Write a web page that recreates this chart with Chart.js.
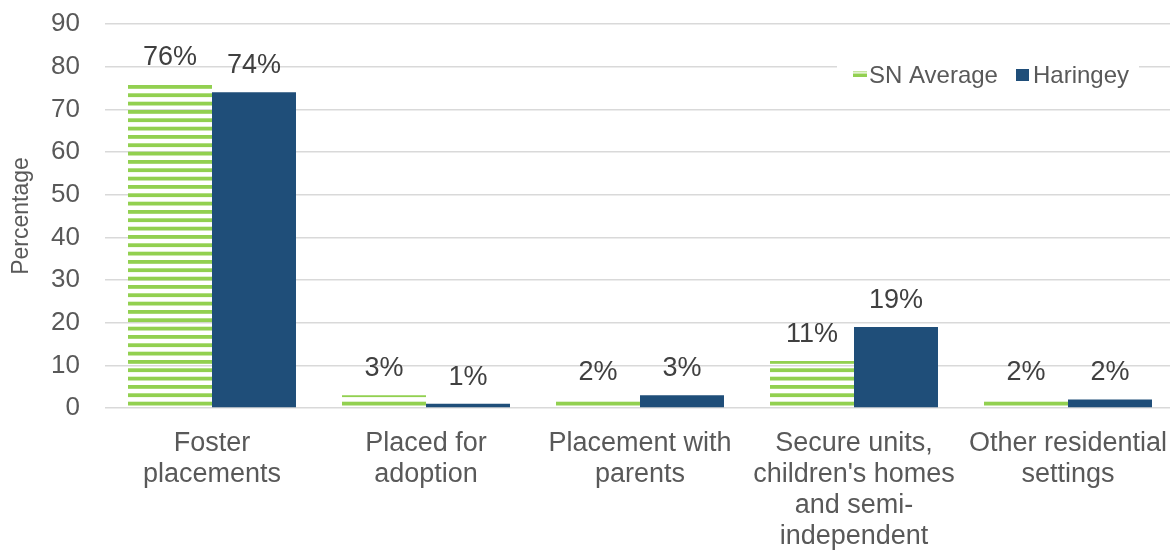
<!DOCTYPE html>
<html>
<head>
<meta charset="utf-8">
<script src="https://cdn.jsdelivr.net/npm/chart.js@4/dist/chart.umd.min.js"></script>
<style>
  html, body { margin: 0; padding: 0; background: #fff; overflow: hidden; }
  #wrap { width: 1180px; height: 550px; position: relative; }
</style>
</head>
<body>
<div id="wrap"><canvas id="myChart" width="1180" height="550"></canvas></div>
<script>
// placement types, split into lines for the x axis
const categories = [
  ["Foster", "placements"],
  ["Placed for", "adoption"],
  ["Placement with", "parents"],
  ["Secure units,", "children's homes", "and semi-", "independent"],
  ["Other residential", "settings"]
];
const snAverage = [76, 3, 2, 11, 2];
const haringey = [74, 1, 3, 19, 2];
const seriesNames = ["SN Average", "Haringey"];
const yTicks = [0, 10, 20, 30, 40, 50, 60, 70, 80, 90];

const GREEN = "#92d050";
const BLUE = "#1f4e79";
const FONT = "'Liberation Sans', Arial, sans-serif";

// horizontal stripe fill for the SN Average bars
function stripes() {
  let c = document.createElement("canvas");
  c.width = 8;
  c.height = 25;
  let g = c.getContext("2d");
  g.fillStyle = GREEN;
  [1.7, 10, 18.3].forEach(y => g.fillRect(0, y, 8, 3.8));
  return document.getElementById("myChart").getContext("2d").createPattern(c, "repeat");
}

const valueLabels = {
  id: "valueLabels",
  afterDatasetsDraw(chart) {
    const ctx = chart.ctx;
    ctx.save();
    ctx.font = "27px " + FONT;
    ctx.fillStyle = "#404040";
    ctx.textAlign = "center";
    ctx.textBaseline = "alphabetic";
    chart.data.datasets.forEach((ds, i) => {
      chart.getDatasetMeta(i).data.forEach((bar, j) => {
        ctx.fillText(ds.data[j] + "%", bar.x, bar.y - 19);
      });
    });
    ctx.restore();
  }
};

// legend sits inside the plot, top right, on a white box
const boxLegend = {
  id: "boxLegend",
  afterDraw(chart) {
    const ctx = chart.ctx;
    ctx.save();
    ctx.fillStyle = "#fff";
    ctx.fillRect(837, 57, 302, 36);
    // striped marker
    ctx.fillStyle = "#c5e5a0";
    ctx.fillRect(853, 71, 14, 1.5);
    ctx.fillStyle = GREEN;
    ctx.fillRect(853, 73.5, 14, 3.5);
    ctx.fillStyle = BLUE;
    ctx.fillRect(1016, 69, 13, 12);
    ctx.font = "24px " + FONT;
    ctx.fillStyle = "#595959";
    ctx.textBaseline = "middle";
    ctx.fillText(chart.data.datasets[0].label, 869, 76);
    ctx.fillText(chart.data.datasets[1].label, 1033, 76);
    ctx.restore();
  }
};

let ctx = document.getElementById("myChart").getContext("2d");
let myChart = new Chart(ctx, {
  type: "bar",
  data: {
    labels: categories,
    datasets: [
      { label: seriesNames[0], data: snAverage, backgroundColor: stripes() },
      { label: seriesNames[1], data: haringey, backgroundColor: BLUE }
    ]
  },
  options: {
    responsive: false,
    animation: false,
    devicePixelRatio: 1,
    layout: { padding: { top: 24, right: 5 } },
    datasets: { bar: { barPercentage: 1, categoryPercentage: 0.785 } },
    plugins: { legend: { display: false }, tooltip: { enabled: false } },
    scales: {
      x: {
        grid: { display: false },
        border: { display: false },
        ticks: {
          color: "#595959",
          font: { family: FONT, size: 27, lineHeight: 1.15 },
          maxRotation: 0,
          autoSkip: false,
          padding: 12
        },
        afterFit(scale) { scale.height = 142; }
      },
      y: {
        min: 0,
        max: 90,
        afterBuildTicks(scale) { scale.ticks = yTicks.map(v => ({ value: v })); },
        grid: { color: "#d9d9d9", lineWidth: 1.5, drawTicks: false },
        border: { display: false },
        ticks: {
          color: "#595959",
          font: { family: FONT, size: 26 },
          padding: 25
        },
        title: {
          display: true,
          text: "Percentage",
          color: "#595959",
          font: { family: FONT, size: 23 },
          padding: { top: 8, bottom: 0 }
        },
        afterFit(scale) {
          scale.width = 105;
          scale.paddingTop = 0;
          scale.paddingBottom = 0;
        }
      }
    }
  },
  plugins: [valueLabels, boxLegend]
});
</script>
</body>
</html>
